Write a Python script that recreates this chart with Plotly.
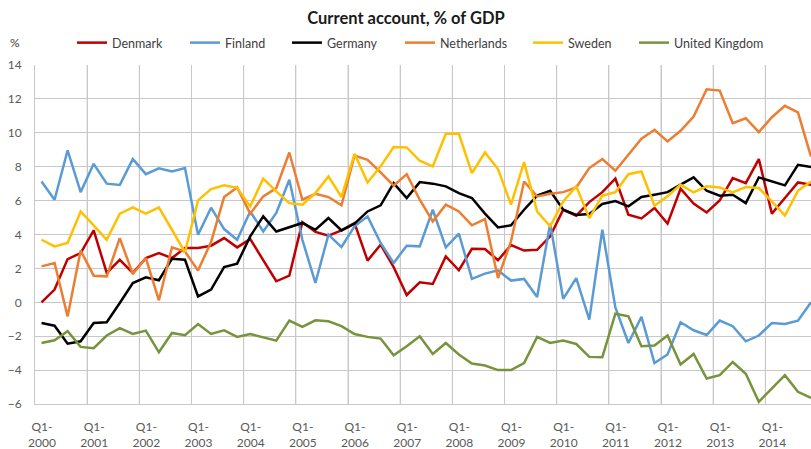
import plotly.graph_objects as go

years = list(range(2000, 2015))
quarters = [f"Q{q}-{y}" for y in years for q in range(1, 5)]
tick_labels = [f"Q1-<br>{y}" for y in years]

denmark = [0.0, 0.75, 2.55, 2.9, 4.24, 1.73, 2.51, 1.73, 2.61, 2.9,
           2.61, 3.2, 3.2, 3.34, 3.79, 3.24, 3.73, 2.51, 1.24, 1.57,
           4.73, 4.15, 3.93, 4.24, 4.68, 2.46, 3.4, 2.08, 0.43, 1.18,
           1.08, 2.71, 1.89, 3.16, 3.14, 2.48, 3.38, 3.05, 3.1, 3.89,
           5.46, 5.11, 5.91, 6.5, 7.3, 5.17, 4.95, 5.56, 4.64, 6.7,
           5.82, 5.3, 6.01, 7.33, 7.03, 8.45, 5.23, 6.15, 7.07, 6.94]
finland = [7.13, 6.05, 8.96, 6.5, 8.17, 7.0, 6.92, 8.45, 7.56, 7.9,
           7.72, 7.92, 3.99, 5.58, 4.32, 3.69, 5.36, 4.18, 5.27, 7.23,
           3.69, 1.14, 3.99, 3.26, 4.48, 5.07, 3.5, 2.32, 3.34, 3.3,
           5.46, 3.24, 4.05, 1.38, 1.69, 1.89, 1.28, 1.38, 0.31, 4.64,
           0.2, 1.43, -1.02, 4.28, -0.3, -2.4, -0.86, -3.58, -3.08, -1.18,
           -1.65, -1.93, -1.08, -1.41, -2.3, -1.96, -1.22, -1.28, -1.08, 0.0]
germany = [-1.22, -1.38, -2.44, -2.3, -1.22, -1.18, -0.04, 1.14, 1.47, 1.3,
           2.57, 2.51, 0.35, 0.75, 2.08, 2.28, 3.89, 5.07, 4.18, 4.44,
           4.68, 4.28, 4.97, 4.24, 4.64, 5.36, 5.72, 7.03, 6.15, 7.09,
           7.0, 6.84, 6.44, 6.15, 5.23, 4.42, 4.54, 5.46, 6.29, 6.58,
           5.46, 5.15, 5.21, 5.8, 5.97, 5.66, 6.21, 6.35, 6.5, 6.94,
           7.37, 6.58, 6.29, 6.35, 5.85, 7.37, 7.13, 6.9, 8.11, 7.98]
netherlands = [2.12, 2.32, -0.83, 3.05, 1.57, 1.53, 3.79, 1.67, 2.61, 0.12,
               3.24, 3.0, 1.87, 3.56, 6.21, 6.78, 5.23, 6.25, 6.74, 8.84,
               6.05, 6.4, 6.21, 5.72, 8.66, 8.41, 7.66, 6.88, 7.56, 6.05,
               4.77, 5.76, 5.36, 4.54, 4.91, 1.43, 3.6, 7.13, 6.25, 6.4,
               6.5, 6.78, 7.92, 8.45, 7.76, 8.74, 9.65, 10.18, 9.49, 10.12,
               10.96, 12.57, 12.49, 10.57, 10.86, 10.04, 10.92, 11.59, 11.2, 8.6]
sweden = [3.69, 3.3, 3.5, 5.36, 4.54, 3.69, 5.23, 5.6, 5.23, 5.6,
          4.28, 2.95, 6.01, 6.68, 6.9, 6.75, 5.66, 7.29, 6.54, 5.85,
          5.76, 6.44, 7.43, 6.21, 8.76, 7.07, 8.02, 9.16, 9.14, 8.35,
          8.02, 9.94, 9.94, 7.62, 8.84, 7.86, 5.76, 8.27, 5.36, 4.48,
          5.95, 6.84, 4.97, 6.29, 6.5, 7.56, 7.72, 5.7, 6.25, 6.94,
          6.48, 6.84, 6.78, 6.48, 6.8, 6.74, 5.95, 5.11, 6.58, 7.13]
uk = [-2.4, -2.24, -1.71, -2.63, -2.71, -1.96, -1.53, -1.87, -1.67, -2.95,
      -1.81, -1.94, -1.28, -1.87, -1.65, -2.04, -1.87, -2.06, -2.26, -1.08,
      -1.45, -1.06, -1.12, -1.41, -1.87, -2.04, -2.14, -3.12, -2.59, -2.0,
      -3.05, -2.4, -3.08, -3.61, -3.73, -4.0, -4.0, -3.58, -2.04, -2.4,
      -2.26, -2.46, -3.22, -3.24, -0.67, -0.83, -2.59, -2.55, -1.96, -3.67,
      -3.05, -4.5, -4.3, -3.52, -4.22, -5.87, -5.11, -4.3, -5.28, -5.64]

series = [
    ("Denmark", denmark, "#C00000"),
    ("Finland", finland, "#5B9BD5"),
    ("Germany", germany, "#000000"),
    ("Netherlands", netherlands, "#ED7D31"),
    ("Sweden", sweden, "#FFC000"),
    ("United Kingdom", uk, "#77933C"),
]
legend_left_px = [72, 185, 287, 400, 528, 634]

W, H = 811, 449
grid = "#c8c8c8"
x = list(range(len(quarters)))
x_range = [-0.5, 59.0]
year_bounds = [4 * i - 0.5 for i in range(len(years))]

fig = go.Figure()
legend_layout = {}
for k, (name, vals, color) in enumerate(series):
    lg = "legend" if k == 0 else f"legend{k + 1}"
    fig.add_trace(go.Scatter(
        x=x, y=vals, name=name, mode="lines", legend=lg,
        line=dict(color=color, width=2.5),
        text=quarters, hovertemplate="%{text}: %{y}<extra>" + name + "</extra>",
    ))
    legend_layout[lg] = dict(
        orientation="h", x=legend_left_px[k] / W, xref="container", xanchor="left",
        y=1 - 43 / H, yref="container", yanchor="middle",
        font=dict(size=12.5, color="#404040"), bgcolor="rgba(0,0,0,0)",
        itemwidth=30,
    )

# vertical gridlines at the year boundaries (category-axis style)
grid_shapes = [dict(type="line", xref="x", yref="paper", x0=b, x1=b, y0=0, y1=1,
                    layer="below", line=dict(color=grid, width=1))
               for b in year_bounds[1:]]

fig.update_layout(
    width=W, height=H,
    margin=dict(l=35, r=0, t=65, b=45, autoexpand=False),
    paper_bgcolor="white", plot_bgcolor="white",
    font=dict(family="Lato, sans-serif", color="#404040"),
    title=dict(text="<b>Current account, % of GDP</b>", x=406 / W, xanchor="center",
               y=1 - 18 / H, yanchor="middle", yref="container",
               font=dict(size=16.5, color="#1a1a1a")),
    showlegend=True,
    shapes=grid_shapes,
    xaxis=dict(
        range=x_range,
        tickmode="array", tickvals=year_bounds, ticktext=tick_labels,
        ticklabelshift=7, ticklabelstandoff=12,
        showgrid=True, gridcolor=grid, gridwidth=1, zeroline=False,
        tickfont=dict(size=12, color="#595959"), ticks="",
        showline=True, linecolor=grid, linewidth=1,
    ),
    yaxis=dict(
        range=[-6, 14], dtick=2, tick0=-6,
        showgrid=True, gridcolor=grid, gridwidth=1, zeroline=False,
        showline=True, linecolor=grid, linewidth=1,
        tickfont=dict(size=12, color="#595959"), ticks="", ticklabelstandoff=10,
    ),
    annotations=[dict(text="%", x=-27 / 776, y=(339 + 22) / 339,
                      xref="paper", yref="paper", xanchor="left",
                      yanchor="middle", showarrow=False,
                      font=dict(size=12, color="#404040"))],
    **legend_layout,
)
fig.write_html("out.html", config={"displayModeBar": False},
               post_script="document.body.style.margin='0';")
